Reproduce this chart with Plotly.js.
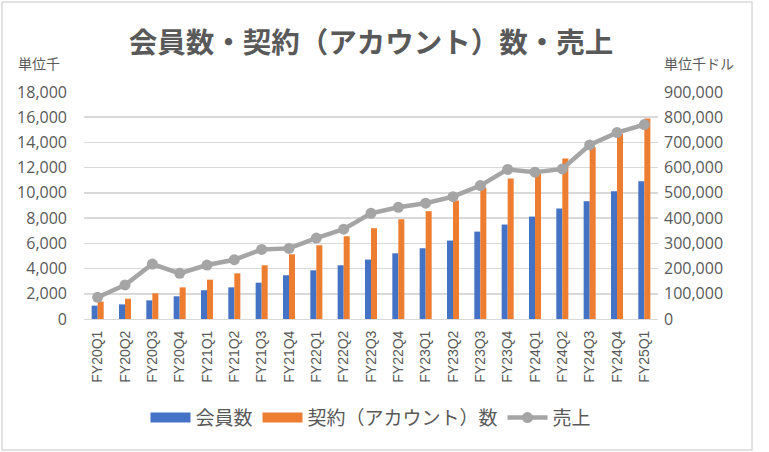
<!DOCTYPE html>
<html>
<head>
<meta charset="utf-8">
<script src="https://cdn.plot.ly/plotly-3.0.1.min.js"></script>
<style>
  body { margin: 0; background: #fff; }
  #chart { width: 769px; height: 452px; }
</style>
</head>
<body>
<div id="chart"></div>
<script>
// quarters FY20Q1 .. FY25Q1
const quarters = [
  "FY20Q1", "FY20Q2", "FY20Q3", "FY20Q4",
  "FY21Q1", "FY21Q2", "FY21Q3", "FY21Q4",
  "FY22Q1", "FY22Q2", "FY22Q3", "FY22Q4",
  "FY23Q1", "FY23Q2", "FY23Q3", "FY23Q4",
  "FY24Q1", "FY24Q2", "FY24Q3", "FY24Q4",
  "FY25Q1"
];
// 会員数 (千)
const members = [
  1060, 1160, 1480, 1800, 2280, 2510, 2880, 3470, 3860, 4260, 4710,
  5210, 5610, 6220, 6930, 7490, 8120, 8760, 9340, 10130, 10930
];
// 契約（アカウント）数 (千)
const accounts = [
  1380, 1610, 2040, 2510, 3120, 3620, 4260, 5130, 5850, 6560, 7200,
  7910, 8550, 9390, 10400, 11140, 11510, 12730, 13620, 14680, 15900
];
// 売上 (千ドル)
const sales = [
  86000, 135000, 218000, 181000, 214000, 235000, 276000, 280000, 321000, 356000, 419000,
  443000, 459000, 485000, 529000, 593000, 582000, 595000, 690000, 739000, 771000
];

const BLUE = "#4472c4", ORANGE = "#ed7d31", GREY = "#a5a5a5", TXT = "#595959";
const FONT = "'Noto Sans CJK JP', 'Noto Sans', sans-serif";
const NUMFONT = "'Open Sans', 'Noto Sans', sans-serif";

const traces = [
  {type: "bar", name: "会員数", x: quarters, y: members,
   marker: {color: BLUE}, showlegend: false},
  {type: "bar", name: "契約（アカウント）数", x: quarters, y: accounts,
   marker: {color: ORANGE}, showlegend: false},
  {type: "scatter", mode: "lines+markers", name: "売上", x: quarters, y: sales,
   yaxis: "y2", line: {color: GREY, width: 4.5},
   marker: {color: GREY, size: 11}, showlegend: false},
  // legend entries (Excel style wide swatches)
  {type: "scatter", mode: "lines", name: "会員数", x: [quarters[0]], y: [null],
   line: {color: BLUE, width: 10}},
  {type: "scatter", mode: "lines", name: "契約（アカウント）数", x: [quarters[0]], y: [null],
   line: {color: ORANGE, width: 10}},
  {type: "scatter", mode: "lines+markers", name: "売上", x: [quarters[0]], y: [null],
   yaxis: "y2", line: {color: GREY, width: 4.5}, marker: {color: GREY, size: 11}}
];

const layout = {
  width: 769, height: 452,
  margin: {l: 84, r: 111, t: 92, b: 133},
  paper_bgcolor: "#fff", plot_bgcolor: "#fff",
  font: {family: FONT, color: TXT, size: 14},
  title: {text: "<b>会員数・契約（アカウント）数・売上</b>",
          font: {size: 28.5, color: TXT, family: FONT},
          x: 0.5, xref: "paper", xanchor: "center", y: 0.905, yanchor: "middle",
          automargin: false},
  barmode: "group", bargap: 0.56, bargroupgap: 0,
  xaxis: {type: "category", range: [-0.5, quarters.length - 0.5],
          tickangle: -90, showgrid: false, automargin: false,
          showline: true, linecolor: "#d9d9d9", linewidth: 1, ticks: "",
          ticklabelstandoff: 5,
          tickfont: {size: 14, color: TXT, family: "'Liberation Sans', Arial, sans-serif"}},
  yaxis: {range: [0, 18000], dtick: 2000, tickformat: ",d", automargin: false,
          gridcolor: "#d9d9d9", gridwidth: 1.5, zeroline: false, ticks: "",
          ticklabelstandoff: 16, tickfont: {size: 16, color: TXT, family: NUMFONT}},
  yaxis2: {overlaying: "y", side: "right", range: [0, 900000], dtick: 100000,
           tickformat: ",d", showgrid: false, zeroline: false, ticks: "", automargin: false,
           ticklabelstandoff: 5, tickfont: {size: 16, color: TXT, family: NUMFONT}},
  legend: {orientation: "h", x: 0.5, xanchor: "center", y: -0.435, yanchor: "middle",
           font: {size: 19, color: TXT}, itemwidth: 40, traceorder: "normal"},
  annotations: [
    {text: "単位千", xref: "paper", yref: "paper", x: -0.118, y: 1.126,
     xanchor: "left", yanchor: "middle", showarrow: false, font: {size: 14, color: TXT}},
    {text: "単位千ドル", xref: "paper", yref: "paper", x: 1.007, y: 1.126,
     xanchor: "left", yanchor: "middle", showarrow: false, font: {size: 14, color: TXT}}
  ],
  shapes: [
    {type: "rect", xref: "paper", yref: "paper",
     x0: -0.1429, x1: 1.1638, y0: -0.577, y1: 1.3965,
     line: {color: "#d9d9d9", width: 1.5}, fillcolor: "rgba(0,0,0,0)", layer: "below"}
  ]
};

Plotly.newPlot("chart", traces, layout, {displayModeBar: false, staticPlot: true});
</script>
</body>
</html>
